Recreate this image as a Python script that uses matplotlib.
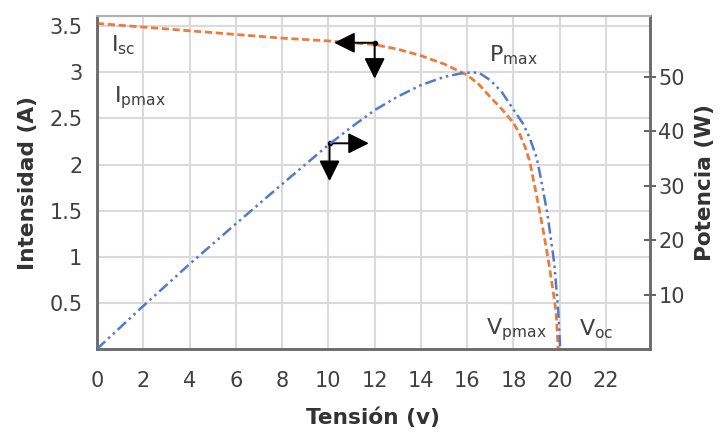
import matplotlib
matplotlib.use("Agg")
import matplotlib.pyplot as plt

# ---- data ----
volt_i = [0, 1, 2, 4, 6, 8, 10, 11, 12, 13, 14, 15, 16, 16.5, 17, 17.5, 18, 18.25, 18.5,
          18.68, 18.77, 19.0, 19.2, 19.4, 19.54, 19.7, 19.84, 19.93]
current = [3.53, 3.51, 3.49, 3.45, 3.41, 3.37, 3.34, 3.32, 3.30, 3.25, 3.18, 3.09, 2.97, 2.87,
           2.73, 2.60, 2.45, 2.34, 2.19, 2.05, 1.95, 1.66, 1.40, 1.12, 0.91, 0.65, 0.40, 0.0]

volt_p = [0, 2, 4, 6, 8, 10, 11, 12, 13, 14, 15, 15.9, 16.5, 17.0, 17.5, 18.0, 18.4, 18.7,
          19.0, 19.2, 19.46, 19.76, 19.93, 20.02]
power = [0, 7.9, 15.6, 23.0, 30.3, 37.5, 40.8, 43.9, 46.4, 48.5, 50.0, 50.8, 50.8, 49.4,
         47.2, 44.0, 41.5, 38.8, 35.2, 31.0, 25.0, 15.8, 7.2, 0]

x_ticks = [0, 2, 4, 6, 8, 10, 12, 14, 16, 18, 20, 22]
y_ticks = [0.5, 1, 1.5, 2, 2.5, 3, 3.5]
y_tick_labels = ["0.5", "1", "1.5", "2", "2.5", "3", "3.5"]
p_ticks = [10, 20, 30, 40, 50]

ORANGE = "#ee7a3c"
BLUE = "#4f7bcc"
TXT = "#404040"

fig = plt.figure(figsize=(7.22, 4.33), dpi=100)
ax = fig.add_axes([0.1343, 0.194, 0.766, 0.769])
ax2 = ax.twinx()

ax.set_xlim(0, 23.9)
ax.set_ylim(0, 3.61)
ax2.set_ylim(0, 61.2)

ax.set_xticks(x_ticks)
ax.set_yticks(y_ticks)
ax.set_yticklabels(y_tick_labels)
ax.grid(True, color="#dadada", lw=1.5)
ax.set_axisbelow(True)

ax.plot(volt_i, current, color=ORANGE, lw=2.0, linestyle=(0, (2.6, 1.3)), zorder=3,
        dash_capstyle="butt", dash_joinstyle="round")
ax2.plot(volt_p, power, color=BLUE, lw=1.8, linestyle=(0, (4.5, 1.6, 1.0, 1.6, 1.0, 1.6)),
         zorder=3, dash_joinstyle="round")

for a in (ax, ax2):
    for s in ["left", "bottom", "right"]:
        a.spines[s].set_color("#6a6a6a")
        a.spines[s].set_linewidth(1.8)
    a.spines["top"].set_color("#b0b0b0")
    a.spines["top"].set_linewidth(1.5)

ax.tick_params(axis="y", length=0, pad=10.5, labelsize=15, labelcolor=TXT)
ax.tick_params(axis="x", length=0, pad=15.5, labelsize=15, labelcolor=TXT)
ax2.set_yticks(p_ticks)
ax2.tick_params(axis="y", direction="inout", length=9, width=1.3, color="#555555",
                pad=1.5, labelsize=15, labelcolor=TXT)

ax.set_xlabel("Tensión (v)", fontsize=15.6, fontweight="bold", color="#333333", labelpad=12)
ax.set_ylabel("Intensidad (A)", fontsize=15.6, fontweight="bold", color="#333333", labelpad=8)
ax2.set_ylabel("Potencia (W)", fontsize=15.6, fontweight="bold", color="#333333", labelpad=7)

# annotations
tk = dict(fontsize=16, color=TXT, va="center", ha="left")
ax.text(0.62, 3.29, r"I$_{\mathrm{sc}}$", **tk)
ax.text(0.75, 2.73, r"I$_{\mathrm{pmax}}$", **tk)
ax.text(16.95, 3.19, r"P$_{\mathrm{max}}$", **tk)
ax.text(16.8, 0.21, r"V$_{\mathrm{pmax}}$", **tk)
ax.text(20.85, 0.21, r"V$_{\mathrm{oc}}$", **tk)

ap = dict(arrowstyle="-|>,head_length=0.9,head_width=0.45", color="black", lw=1.4,
          mutation_scale=14, shrinkA=0, shrinkB=0)
ax.annotate("", xy=(10.25, 3.32), xytext=(12.0, 3.32), arrowprops=ap, zorder=5)
ax.annotate("", xy=(12.0, 2.93), xytext=(12.0, 3.32), arrowprops=ap, zorder=5)
ax.annotate("", xy=(11.75, 2.23), xytext=(10.05, 2.23), arrowprops=ap, zorder=5)
ax.annotate("", xy=(10.05, 1.82), xytext=(10.05, 2.23), arrowprops=ap, zorder=5)
ax.plot([12.0, 10.05], [3.32, 2.23], "o", color="black", ms=3, zorder=6)

fig.savefig("out.png", dpi=100)
